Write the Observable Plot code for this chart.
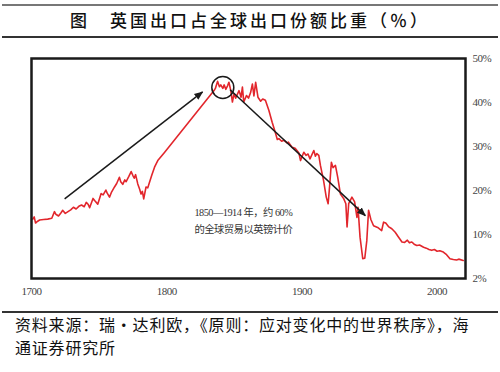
<!DOCTYPE html>
<html><head><meta charset="utf-8">
<script src="https://cdn.jsdelivr.net/npm/d3@7"></script>
<script src="https://cdn.jsdelivr.net/npm/@observablehq/plot@0.6"></script>
<style>
body{margin:0;background:#fff;}
#wrap{position:relative;width:500px;height:372px;overflow:hidden;font-family:"Noto Sans CJK SC",sans-serif;background:#fff;}
.rule{position:absolute;left:2px;width:496px;background:#333;}
#title{position:absolute;top:9px;left:0;width:500px;text-align:center;font-size:17px;font-weight:500;letter-spacing:3px;line-height:22px;color:#111;white-space:nowrap;}
#chart{position:absolute;top:38px;left:0;}
#cap{position:absolute;left:15px;top:313px;font-size:16px;letter-spacing:0.8px;line-height:22.5px;color:#111;white-space:nowrap;}
</style></head>
<body>
<div id="wrap">
  <div class="rule" style="top:4px;height:2px;background:#777"></div>
  <div id="title">图　英国出口占全球出口份额比重（％）</div>
  <div class="rule" style="top:36px;height:1.5px;"></div>
  <div id="chart"></div>
  <div class="rule" style="top:311px;height:1.5px;"></div>
  <div id="cap">资料来源：瑞・达利欧，《原则：应对变化中的世界秩序》，海<br>通证券研究所</div>
</div>
<script>
const years = [1701,1702,1703,1704,1706,1709,1712,1715,1717,1718,1720,1722,1723,1725,1727,1729,1731,1733,1735,1737,1739,1740.5,1742,1743,1745.5,1747,1749,1751.5,1753,1755,1756,1757.7,1759,1761.4,1763,1765,1766,1767.5,1769,1770,1772,1773.7,1775,1776,1777,1778.6,1780,1781,1782,1783,1784.7,1786,1787,1789,1791,1793.4,1798.2,1835,
1836,1837.6,1839,1840,1841.5,1842.5,1843.7,1845,1846,1847.4,1848.6,1849.8,1851,1853.5,1855,1856,1857,1859,1860.5,1862,1863.4,1864.5,1865.8,1867.5,1869.5,1871,1873,1875.6,1878,1880.5,1881.8,1883,1885,1886.7,1889,1890,1892.8,1895,1897.7,1899,1900,1901.4,1903,1904.5,1906,1908.8,1910,1911,1912.5,1913.7,1916,1918,1919.4,1920.5,1921.8,1923,1924.8,1926.5,1928.5,1931,1932.5,1933.4,1934.6,1937,1939,1940.7,1941.5,1943,1945,1946.5,1948,1949.3,1951,1953,1956,1959,1960.4,1962,1964,1966.5,1969,1971,1974,1976,1978,1979.5,1981.3,1983,1985,1987,1990,1992,1994,1996,1998,2000,2002,2004.6,2007,2009.5,2012,2014.4,2016,2019.3];
const shares = [13.5,14.0,12.6,12.9,13.3,13.4,13.5,13.7,15.2,14.6,14.2,15.0,15.5,14.8,15.2,15.6,16.2,15.8,16.4,16.7,16.3,17.3,16.8,16.1,18.2,17.6,16.9,19.3,19.0,20.1,19.4,18.5,19.5,20.8,21.6,23.0,22.0,21.4,22.4,22.0,23.2,24.3,23.4,22.8,23.6,21.5,20.3,19.2,19.8,18.1,20.8,20.6,21.6,23.5,25.3,26.8,28.6,42.7,
43.2,44.8,43.6,44.0,43.2,44.0,43.0,43.8,44.6,42.7,40.1,42.0,41.0,42.7,41.2,43.5,40.1,41.6,41.0,42.2,44.2,41.5,44.6,41.2,40.3,40.8,40.5,38.2,35.5,33.0,31.6,31.8,31.2,31.4,30.8,31.0,29.8,29.6,28.6,26.8,27.6,28.7,28.0,28.3,27.2,29.1,27.8,28.4,28.0,25.7,22.3,18.5,17.0,21.0,26.4,25.2,25.7,23.0,19.2,18.1,17.0,11.7,17.0,18.5,17.4,13.9,16.2,9.4,4.5,4.6,8.6,15.5,13.4,12.0,11.6,10.9,12.8,12.6,11.8,11.3,10.5,9.6,8.3,8.2,8.7,8.1,8.3,7.8,7.5,7.6,7.1,6.9,6.6,6.4,6.6,6.2,6.3,6.0,5.4,4.5,4.3,4.2,4.4,4.1];

const xTicks = [1700,1800,1900,2000];
const yTicks = [0,10,20,30,40,50];
const yTickLabels = ["2%","10%","20%","30%","40%","50%"];

const arrowX1 = [1724.5,1846.9];
const arrowY1 = [18.1,42.9];
const arrowX2 = [1826.5,1946.9];
const arrowY2 = [42.4,14.3];

const circleX = [1841.5];
const circleY = [43.4];

const noteLines = ["1850—1914 年，约 60%","的全球贸易以英镑计价"];
const noteX = [1820.5,1820.5];
const noteY = [15.0,11.2];

const series = years.map((y,i)=>({year:y, share:shares[i]}));
const arrows = arrowX1.map((d,i)=>({x1:d,y1:arrowY1[i],x2:arrowX2[i],y2:arrowY2[i]}));
const circles = circleX.map((d,i)=>({x:d,y:circleY[i]}));
const notes = noteLines.map((t,i)=>({t,x:noteX[i],y:noteY[i]}));
const yLabelMap = new Map(yTicks.map((d,i)=>[d,yTickLabels[i]]));

function tri(color){
  const m = d3.create("svg:marker")
    .attr("viewBox","-5 -5 10 10")
    .attr("markerWidth",9).attr("markerHeight",9)
    .attr("markerUnits","userSpaceOnUse")
    .attr("orient","auto")
    .attr("refX",4)
    .attr("fill",color).attr("stroke","none");
  m.append("path").attr("d","M-5,-4L5,0L-5,4Z");
  return m.node();
}

const chart = Plot.plot({
  width:500, height:272,
  marginTop:20, marginBottom:32, marginLeft:31, marginRight:35,
  style:{fontFamily:"'Liberation Serif','Noto Sans CJK SC',serif", fontSize:"11px", color:"#444", background:"transparent", letterSpacing:"-0.5px"},
  x:{domain:[1700,2021], ticks:xTicks, tickFormat:d=>String(d), tickSize:0, tickPadding:9, label:null},
  y:{domain:[0,50], axis:"right", ticks:yTicks, tickFormat:d=>yLabelMap.get(d), tickSize:0, tickPadding:7, label:null},
  marks:[
    Plot.line(series,{x:"year",y:"share",stroke:"#e2262c",strokeWidth:1.6}),
    Plot.link(arrows,{x1:"x1",y1:"y1",x2:"x2",y2:"y2",stroke:"#1a1a1a",strokeWidth:1.5,markerEnd:tri}),
    Plot.dot(circles,{x:"x",y:"y",r:11,stroke:"#1a1a1a",strokeWidth:1.5,fill:"none"}),
    Plot.text(notes,{x:"x",y:"y",text:"t",textAnchor:"start",fontSize:10.3,fill:"#333"}),
    Plot.frame({stroke:"#1a1a1a",strokeWidth:2.5})
  ]
});
document.getElementById("chart").appendChild(chart);
</script>
</body></html>
